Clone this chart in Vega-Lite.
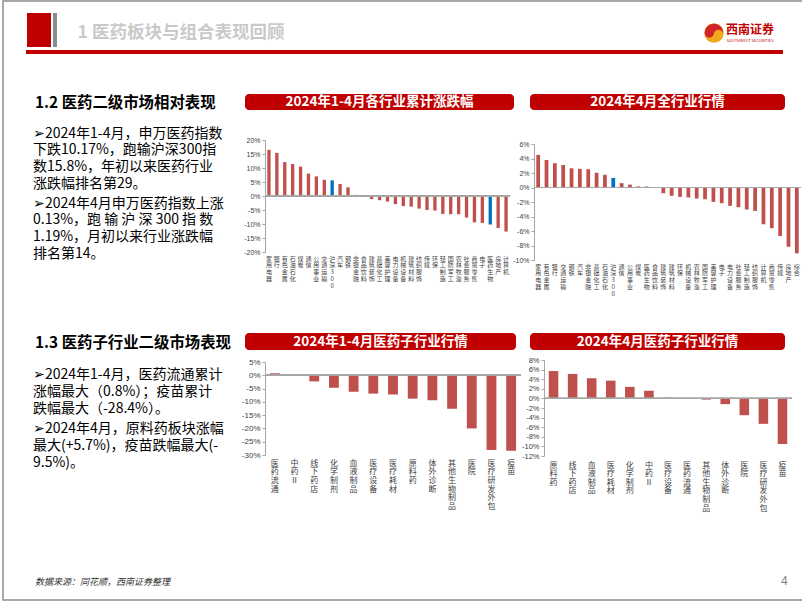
{
"$schema": "https://vega.github.io/schema/vega-lite/v6.json",
"padding": 0,
"background": "white",
"data": {"values": [{}]},
"bounds": "flush",
"spacing": 0,
"config": {"view": {"stroke": null}, "font": "Noto Sans CJK SC", "concat": {"spacing": 0}},
"datasets": {
"i14": [{"name":"家用电器","v":16.5},{"name":"银行","v":15.4},{"name":"有色金属","v":12.1},{"name":"石油石化","v":11.4},{"name":"煤炭","v":10.5},{"name":"通信","v":8.0},{"name":"公用事业","v":7.0},{"name":"交通运输","v":5.8},{"name":"沪深300","v":5.6},{"name":"汽车","v":4.3},{"name":"钢铁","v":3.1},{"name":"非银金融","v":0.4},{"name":"食品饮料","v":-0.3},{"name":"建筑装饰","v":-1.1},{"name":"基础化工","v":-1.5},{"name":"美容护理","v":-2.0},{"name":"电力设备","v":-2.9},{"name":"机械设备","v":-3.6},{"name":"建筑材料","v":-3.8},{"name":"纺织服饰","v":-4.5},{"name":"传媒","v":-5.0},{"name":"环保","v":-5.2},{"name":"轻工制造","v":-6.4},{"name":"国防军工","v":-6.5},{"name":"农林牧渔","v":-6.5},{"name":"社会服务","v":-7.7},{"name":"商贸零售","v":-9.4},{"name":"电子","v":-9.6},{"name":"医药生物","v":-10.17},{"name":"房地产","v":-11.4},{"name":"计算机","v":-12.7}],
"i4": [{"name":"家用电器","v":4.5},{"name":"有色金属","v":3.8},{"name":"银行","v":3.35},{"name":"交通运输","v":3.1},{"name":"钢铁","v":2.65},{"name":"汽车","v":2.57},{"name":"非银金融","v":2.52},{"name":"基础化工","v":2.02},{"name":"石油石化","v":1.75},{"name":"沪深300","v":1.32},{"name":"通信","v":0.6},{"name":"公用事业","v":0.4},{"name":"煤炭","v":0.15},{"name":"医药生物","v":0.13},{"name":"食品饮料","v":0.05},{"name":"建筑装饰","v":-0.8},{"name":"建筑材料","v":-1.15},{"name":"环保","v":-1.3},{"name":"机械设备","v":-1.38},{"name":"农林牧渔","v":-1.52},{"name":"国防军工","v":-1.62},{"name":"美容护理","v":-1.98},{"name":"电子","v":-2.17},{"name":"电力设备","v":-2.53},{"name":"社会服务","v":-2.72},{"name":"轻工制造","v":-3.04},{"name":"纺织服饰","v":-3.23},{"name":"计算机","v":-5.07},{"name":"商贸零售","v":-5.62},{"name":"传媒","v":-6.68},{"name":"房地产","v":-8.16},{"name":"综合","v":-9.08}],
"s14": [{"name":"医药流通","v":0.8},{"name":"中药Ⅱ","v":-0.1},{"name":"线下药店","v":-2.3},{"name":"化学制剂","v":-4.7},{"name":"血液制品","v":-6.2},{"name":"医疗设备","v":-6.9},{"name":"医疗耗材","v":-7.2},{"name":"原料药","v":-8.8},{"name":"体外诊断","v":-9.4},{"name":"其他生物制品","v":-12.6},{"name":"医院","v":-20.0},{"name":"医疗研发外包","v":-28.1},{"name":"疫苗","v":-28.4}],
"s4": [{"name":"原料药","v":5.7},{"name":"线下药店","v":5.1},{"name":"血液制品","v":4.2},{"name":"医疗耗材","v":3.7},{"name":"化学制剂","v":2.4},{"name":"中药Ⅱ","v":1.6},{"name":"医疗设备","v":0.15},{"name":"医药流通","v":0.03},{"name":"其他生物制品","v":-0.25},{"name":"体外诊断","v":-1.2},{"name":"医院","v":-3.5},{"name":"医疗研发外包","v":-5.3},{"name":"疫苗","v":-9.5}]
},
"vconcat": [
{"bounds":"flush","hconcat":[
  {"width":800,"height":599,"view":{"stroke":"#8C8C8C","strokeWidth":1.5,"fill":null},"mark":{"type":"point","opacity":0}}
]},
{"width":1,"height":12,"mark":{"type":"point","opacity":0}},
{"bounds":"flush","hconcat":[
  {"width":24,"height":1,"mark":{"type":"point","opacity":0}},
  {"width":24,"height":34,"view":{"fill":"#C00000","stroke":null},"mark":{"type":"point","opacity":0}},
  {"width":2,"height":1,"mark":{"type":"point","opacity":0}},
  {"width":4,"height":34,"view":{"fill":"#8C8C8C","stroke":null},"mark":{"type":"point","opacity":0}},
  {"width":20,"height":1,"mark":{"type":"point","opacity":0}},
  {"width":208,"height":34,"mark":{"type":"text","text":"1 医药板块与组合表现回顾","fontSize":17.5,"fontWeight":"bold","color":"#C9C9C9","dy":3}},
  {"width":440,"height":1,"mark":{"type":"point","opacity":0}},
  {"width":50,"height":34,"layer":[
    {"mark":{"type":"text","text":"西南证券","fontSize":12,"fontWeight":"bold","color":"#C00000","dy":0}},
    {"mark":{"type":"text","text":"SOUTHWEST SECURITIES","fontSize":4,"color":"#C00000","dy":11}}
  ]}
]},
{"width":1,"height":8,"mark":{"type":"point","opacity":0}},
{"bounds":"flush","hconcat":[
  {"width":700,"height":1,"mark":{"type":"point","opacity":0}},
  {"width":22,"height":24,"layer":[
    {"mark":{"type":"point","shape":"circle","filled":true,"size":380,"color":"#F0A81C","opacity":1}},
    {"mark":{"type":"point","shape":"M -0.95 0 A 0.95 0.95 0 0 1 0.95 0 A 0.5 0.5 0 0 0 0 0 A 0.47 0.47 0 0 1 -0.95 0 Z","filled":true,"size":380,"color":"#D2232A","opacity":1}}
  ]}
]},
{"width":1,"height":29,"mark":{"type":"point","opacity":0}},
{"bounds":"flush","hconcat":[
  {"width":23,"height":1,"mark":{"type":"point","opacity":0}},
  {"width":757,"height":4,"view":{"fill":"#C00000","stroke":null},"mark":{"type":"point","opacity":0}}
]},
{"width":1,"height":44,"mark":{"type":"point","opacity":0}},
{"bounds":"flush","hconcat":[
  {"width":242,"height":1,"mark":{"type":"point","opacity":0}},
  {"width":269,"height":16,"view":{"fill":"#C00000","stroke":null,"cornerRadius":4},"mark":{"type":"text","text":"2024年1-4月各行业累计涨跌幅","color":"white","fontSize":13.5,"fontWeight":"bold"}},
  {"width":16,"height":1,"mark":{"type":"point","opacity":0}},
  {"width":255,"height":16,"view":{"fill":"#C00000","stroke":null,"cornerRadius":4},"mark":{"type":"text","text":"2024年4月全行业行情","color":"white","fontSize":13.5,"fontWeight":"bold"}}
]},
{"width":1,"height":20,"mark":{"type":"point","opacity":0}},
{"bounds":"flush","hconcat":[
  {"width":30,"height":1,"mark":{"type":"point","opacity":0}},
  {"width":212,"height":1,"mark":{"type":"point","opacity":0},
   "title":{"text":"1.2 医药二级市场相对表现","anchor":"start","offset":0,"dx":2,"fontSize":15.4,"fontWeight":"bold","color":"#000000","font":"Noto Sans CJK SC","limit":1000}}
]},
{"width":1,"height":26,"mark":{"type":"point","opacity":0}},
{"bounds":"flush","hconcat":[
  {"width":262,"height":1,"mark":{"type":"point","opacity":0}},
  {"width":245,"height":112,"data":{"name":"i14"},"layer":[
    {"mark":{"type":"bar"},"encoding":{
      "x":{"field":"name","type":"nominal","sort":null,"scale":{"paddingInner":0.58,"paddingOuter":0.29},
           "axis":{"title":null,"domain":false,"ticks":false,"labelAngle":0,"labelAlign":"center","labelBaseline":"top","labelExpr":"split(datum.label, '')","labelFontSize":6,"labelLineHeight":6.8,"labelPadding":3,"labelOverlap":false,"labelColor":"#404040","labelLimit":0}},
      "y":{"field":"v","type":"quantitative","scale":{"domain":[-20,20],"nice":false},
           "axis":{"title":null,"values":[-20,-15,-10,-5,0,5,10,15,20],"tickCount":50,"labelExpr":"datum.value + '%'","labelOverlap":false,"labelBound":false,"labelFlush":false,"grid":false,"domainColor":"#A6A6A6","tickColor":"#A6A6A6","tickSize":3,"labelFontSize":7,"labelFont":"Liberation Sans","labelColor":"#404040","labelPadding":2}},
      "color":{"condition":{"test":"datum.name === '沪深300' || datum.name === '医药生物'","value":"#0070C0"},"value":"#C0504D"}}},
    {"mark":{"type":"rule","color":"#A6A6A6","strokeWidth":1},"encoding":{"y":{"datum":0}}}
  ]}
]},
{"width":1,"height":4,"mark":{"type":"point","opacity":0}},
{"bounds":"flush","hconcat":[
  {"width":531,"height":1,"mark":{"type":"point","opacity":0}},
  {"width":267,"height":116,"data":{"name":"i4"},"layer":[
    {"mark":{"type":"bar"},"encoding":{
      "x":{"field":"name","type":"nominal","sort":null,"scale":{"paddingInner":0.55,"paddingOuter":0.275},
           "axis":{"title":null,"domain":false,"ticks":false,"labelAngle":0,"labelAlign":"center","labelBaseline":"top","labelExpr":"split(datum.label, '')","labelFontSize":6,"labelLineHeight":6.8,"labelPadding":3,"labelOverlap":false,"labelColor":"#404040","labelLimit":0}},
      "y":{"field":"v","type":"quantitative","scale":{"domain":[-10,6],"nice":false},
           "axis":{"title":null,"values":[-10,-8,-6,-4,-2,0,2,4,6],"tickCount":50,"labelExpr":"datum.value + '%'","labelOverlap":false,"labelBound":false,"labelFlush":false,"grid":false,"domainColor":"#A6A6A6","tickColor":"#A6A6A6","tickSize":3,"labelFontSize":7,"labelFont":"Liberation Sans","labelColor":"#404040","labelPadding":2}},
      "color":{"condition":{"test":"datum.name === '沪深300' || datum.name === '医药生物'","value":"#0070C0"},"value":"#C0504D"}}},
    {"mark":{"type":"rule","color":"#A6A6A6","strokeWidth":1},"encoding":{"y":{"datum":0}}}
  ]}
]},
{"width":1,"height":49,"mark":{"type":"point","opacity":0}},
{"bounds":"flush","hconcat":[
  {"width":30,"height":1,"mark":{"type":"point","opacity":0}},
  {"width":212,"height":1,"mark":{"type":"point","opacity":0},
   "title":{"text":["➢2024年1-4月，申万医药指数","\u2003下跌10.17%，跑输沪深300指","\u2003数15.8%，年初以来医药行业","\u2003涨跌幅排名第29。"],"anchor":"start","offset":0,"fontSize":14,"fontWeight":"normal","lineHeight":16.7,"color":"#000000","font":"Noto Sans CJK SC","limit":1000}}
]},
{"width":1,"height":70,"mark":{"type":"point","opacity":0}},
{"bounds":"flush","hconcat":[
  {"width":30,"height":1,"mark":{"type":"point","opacity":0}},
  {"width":212,"height":1,"mark":{"type":"point","opacity":0},
   "title":{"text":["➢2024年4月申万医药指数上涨","\u20030.13%，跑 输 沪 深 300 指 数","\u20031.19%，月初以来行业涨跌幅","\u2003排名第14。"],"anchor":"start","offset":0,"fontSize":14,"fontWeight":"normal","lineHeight":16.7,"color":"#000000","font":"Noto Sans CJK SC","limit":1000}}
]},
{"width":1,"height":70,"mark":{"type":"point","opacity":0}},
{"bounds":"flush","hconcat":[
  {"width":242,"height":1,"mark":{"type":"point","opacity":0}},
  {"width":271,"height":17,"view":{"fill":"#C00000","stroke":null,"cornerRadius":4},"mark":{"type":"text","text":"2024年1-4月医药子行业行情","color":"white","fontSize":13.5,"fontWeight":"bold"}},
  {"width":14,"height":1,"mark":{"type":"point","opacity":0}},
  {"width":255,"height":17,"view":{"fill":"#C00000","stroke":null,"cornerRadius":4},"mark":{"type":"text","text":"2024年4月医药子行业行情","color":"white","fontSize":13.5,"fontWeight":"bold"}}
]},
{"width":1,"height":21,"mark":{"type":"point","opacity":0}},
{"bounds":"flush","hconcat":[
  {"width":30,"height":1,"mark":{"type":"point","opacity":0}},
  {"width":212,"height":1,"mark":{"type":"point","opacity":0},
   "title":{"text":"1.3 医药子行业二级市场表现","anchor":"start","offset":0,"dx":2,"fontSize":15.4,"fontWeight":"bold","color":"#000000","font":"Noto Sans CJK SC","limit":1000}}
]},
{"width":1,"height":6,"mark":{"type":"point","opacity":0}},
{"bounds":"flush","hconcat":[
  {"width":541,"height":1,"mark":{"type":"point","opacity":0}},
  {"width":248,"height":96,"data":{"name":"s4"},"layer":[
    {"mark":{"type":"bar"},"encoding":{
      "x":{"field":"name","type":"nominal","sort":null,"scale":{"paddingInner":0.5,"paddingOuter":0.25},
           "axis":{"title":null,"domain":false,"ticks":false,"labelAngle":0,"labelAlign":"center","labelBaseline":"top","labelExpr":"split(datum.label, '')","labelFontSize":8,"labelLineHeight":8.6,"labelPadding":5,"labelOverlap":false,"labelColor":"#404040","labelLimit":0}},
      "y":{"field":"v","type":"quantitative","scale":{"domain":[-12,8],"nice":false},
           "axis":{"title":null,"values":[-12,-10,-8,-6,-4,-2,0,2,4,6,8],"tickCount":50,"labelExpr":"datum.value + '%'","labelOverlap":false,"labelBound":false,"labelFlush":false,"grid":false,"domainColor":"#A6A6A6","tickColor":"#A6A6A6","tickSize":3,"labelFontSize":7.5,"labelFont":"Liberation Sans","labelColor":"#404040","labelPadding":2}},
      "color":{"value":"#C0504D"}}},
    {"mark":{"type":"rule","color":"#A6A6A6","strokeWidth":1},"encoding":{"y":{"datum":0}}}
  ]}
]},
{"width":1,"height":2,"mark":{"type":"point","opacity":0}},
{"bounds":"flush","hconcat":[
  {"width":262,"height":1,"mark":{"type":"point","opacity":0}},
  {"width":256,"height":93,"data":{"name":"s14"},"layer":[
    {"mark":{"type":"bar"},"encoding":{
      "x":{"field":"name","type":"nominal","sort":null,"scale":{"paddingInner":0.5,"paddingOuter":0.25},
           "axis":{"title":null,"domain":false,"ticks":false,"labelAngle":0,"labelAlign":"center","labelBaseline":"top","labelExpr":"split(datum.label, '')","labelFontSize":8,"labelLineHeight":8.7,"labelPadding":4,"labelOverlap":false,"labelColor":"#404040","labelLimit":0}},
      "y":{"field":"v","type":"quantitative","scale":{"domain":[-30,5],"nice":false},
           "axis":{"title":null,"values":[-30,-25,-20,-15,-10,-5,0,5],"tickCount":50,"labelExpr":"datum.value + '%'","labelOverlap":false,"labelBound":false,"labelFlush":false,"grid":false,"domainColor":"#A6A6A6","tickColor":"#A6A6A6","tickSize":3,"labelFontSize":8,"labelFont":"Liberation Sans","labelColor":"#404040","labelPadding":2}},
      "color":{"value":"#C0504D"}}},
    {"mark":{"type":"rule","color":"#A6A6A6","strokeWidth":1},"encoding":{"y":{"datum":0}}}
  ]}
]},
{"width":1,"height":56,"mark":{"type":"point","opacity":0}},
{"bounds":"flush","hconcat":[
  {"width":30,"height":1,"mark":{"type":"point","opacity":0}},
  {"width":212,"height":1,"mark":{"type":"point","opacity":0},
   "title":{"text":["➢2024年1-4月，医药流通累计","\u2003涨幅最大（0.8%）；疫苗累计","\u2003跌幅最大（-28.4%）。"],"anchor":"start","offset":0,"fontSize":14,"fontWeight":"normal","lineHeight":16.7,"color":"#000000","font":"Noto Sans CJK SC","limit":1000}}
]},
{"width":1,"height":54,"mark":{"type":"point","opacity":0}},
{"bounds":"flush","hconcat":[
  {"width":30,"height":1,"mark":{"type":"point","opacity":0}},
  {"width":212,"height":1,"mark":{"type":"point","opacity":0},
   "title":{"text":["➢2024年4月，原料药板块涨幅","\u2003最大(+5.7%)，疫苗跌幅最大(-","\u20039.5%)。"],"anchor":"start","offset":0,"fontSize":14,"fontWeight":"normal","lineHeight":16.7,"color":"#000000","font":"Noto Sans CJK SC","limit":1000}}
]},
{"width":1,"height":117,"mark":{"type":"point","opacity":0}},
{"bounds":"flush","hconcat":[
  {"width":32,"height":1,"mark":{"type":"point","opacity":0}},
  {"width":746,"height":1,"mark":{"type":"point","opacity":0},
   "title":{"text":"数据来源：同花顺，西南证券整理","anchor":"start","offset":0,"fontSize":9,"fontWeight":"normal","fontStyle":"italic","color":"#333333","font":"Noto Sans CJK SC","limit":1000}},
  {"width":10,"height":1,"mark":{"type":"point","opacity":0},
   "title":{"text":"4","anchor":"start","offset":-1.5,"fontSize":12,"fontWeight":"normal","color":"#7F7F7F","font":"Liberation Sans"}}
]}
]
}
